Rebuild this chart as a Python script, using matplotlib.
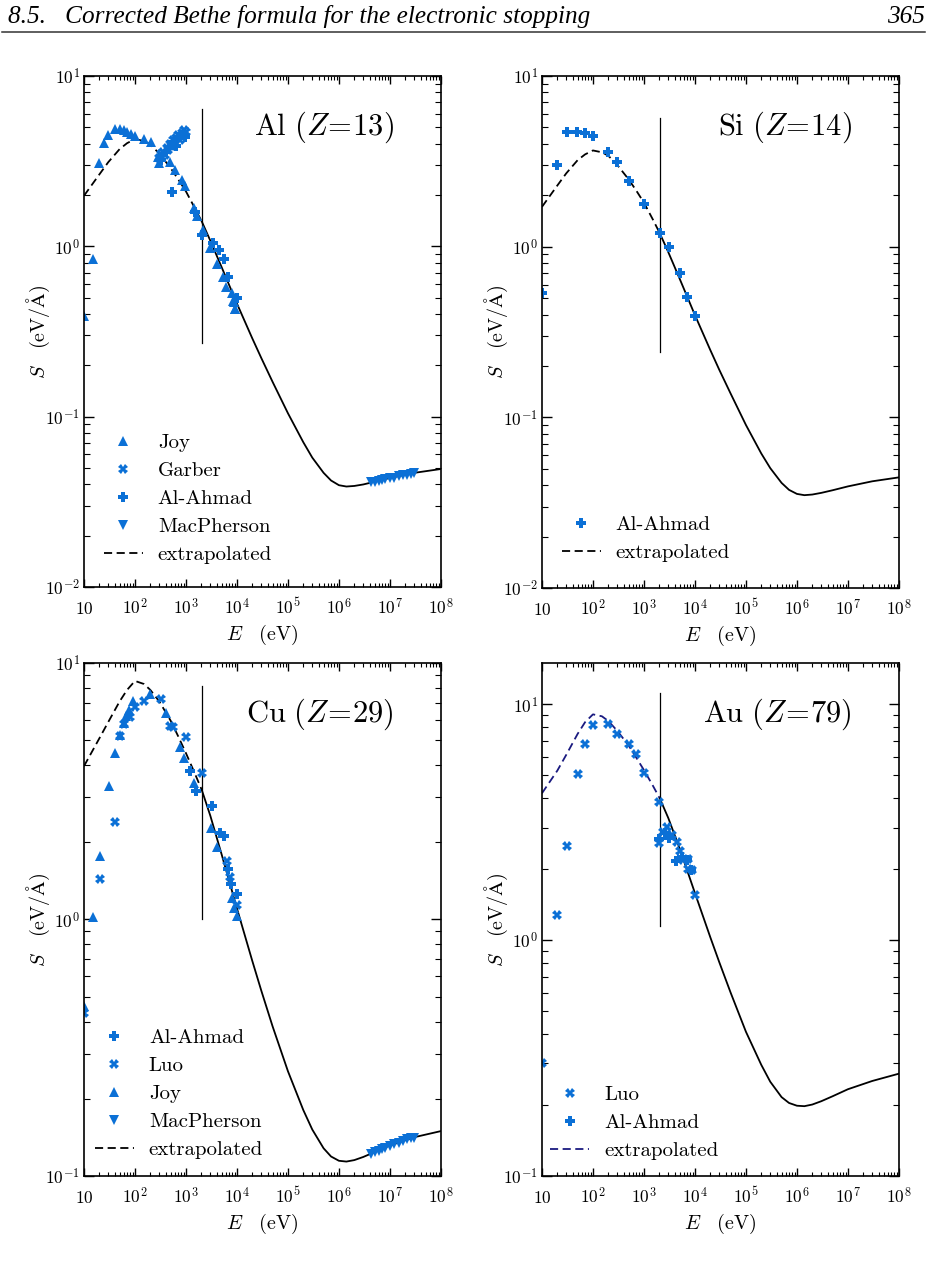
import numpy as np
import matplotlib
matplotlib.use('Agg')
import matplotlib.pyplot as plt
from matplotlib.lines import Line2D
from matplotlib.ticker import LogLocator, NullFormatter

plt.rcParams['font.family'] = 'cmr10'
plt.rcParams['mathtext.fontset'] = 'cm'
plt.rcParams['axes.formatter.use_mathtext'] = True

BLUE = '#0b70d6'
CUT_E = 2040.0  # boundary between extrapolated and Bethe regime (eV)

curve_E = [10, 20, 30, 50, 70, 100, 150, 200, 300, 500, 700, 1000, 1500, 2040,
           3000, 5000, 1e4, 2e4, 3e4, 5e4, 1e5, 2e5, 3e5, 5e5, 7e5, 1e6, 1.4e6,
           2e6, 3e6, 5e6, 1e7, 3e7, 1e8]

# --- Al (Z=13) ---
al_curve_S = [1.98, 2.64, 3.12, 3.72, 4.03, 4.26, 4.15, 3.96, 3.50, 2.88, 2.48, 2.10, 1.67, 1.40,
              1.08, 0.755, 0.461, 0.288, 0.221, 0.160, 0.1047, 0.0708, 0.0575, 0.0468, 0.0422,
              0.0396, 0.0389, 0.0392, 0.0400, 0.0415, 0.0437, 0.0468, 0.0493]
al_cut_span = [0.272, 6.4]

al_joy_E = [10, 15.2, 20, 25, 30, 40, 50, 60, 70, 85, 100, 150, 205, 286, 296, 485, 608,
            822, 950, 1435, 1620, 2130, 2950, 4000, 5260, 6070, 7900, 8500, 8700, 9100, 9200]
al_joy_S = [0.39, 0.843, 3.08, 4.03, 4.5, 4.89, 4.85, 4.8, 4.7, 4.55, 4.45, 4.25, 4.12, 3.36,
            3.08, 3.13, 2.81, 2.45, 2.26, 1.67, 1.5, 1.25, 0.975, 0.79, 0.66, 0.58, 0.53, 0.48,
            0.47, 0.43, 0.43]
al_garber_E = [290, 320, 350, 380, 420, 450, 480, 520, 560, 600, 650, 700, 760, 820, 900, 1000]
al_garber_S = [3.3, 3.5, 3.6, 3.45, 3.8, 3.7, 4.0, 3.9, 4.2, 4.0, 4.3, 4.5, 4.2, 4.6, 4.8, 4.7]
al_ahmad_E = [330, 400, 470, 550, 640, 720, 850, 950, 525, 1500, 2100, 3330, 4440, 5600, 6800, 9800]
al_ahmad_S = [3.2, 3.6, 3.8, 4.1, 3.9, 4.4, 4.5, 4.4, 2.09, 1.6, 1.17, 1.05, 0.95, 0.84, 0.66, 0.5]
al_mac_E = [4.2e6, 5e6, 6e6, 7e6, 8e6, 1e7, 1.2e7, 1.5e7, 1.8e7, 2.2e7, 2.6e7, 3e7]
al_mac_S = [0.0412, 0.0416, 0.0421, 0.0425, 0.0429, 0.0434, 0.0439, 0.0446, 0.0452, 0.0457,
            0.0461, 0.0465]

# --- Si (Z=14) ---
si_curve_S = [1.71, 2.28, 2.69, 3.21, 3.47, 3.66, 3.57, 3.41, 3.01, 2.48, 2.14, 1.81, 1.44, 1.20,
              0.929, 0.650, 0.397, 0.248, 0.190, 0.138, 0.0902, 0.0614, 0.0504, 0.0413, 0.0376,
              0.0356, 0.0350, 0.0353, 0.0361, 0.0374, 0.0394, 0.0422, 0.0445]
si_cut_span = [0.242, 5.65]

si_ahmad_E = [10, 20, 30.5, 49, 70, 101, 200, 300, 508, 1000, 2060, 3100, 5080, 7080, 1e4]
si_ahmad_S = [0.537, 3.0, 4.71, 4.71, 4.66, 4.45, 3.6, 3.14, 2.42, 1.78, 1.2, 1.0, 0.70, 0.51, 0.39]

# --- Cu (Z=29) ---
cu_curve_S = [3.96, 5.08, 5.89, 7.08, 7.85, 8.51, 8.28, 7.85, 7.08, 5.96, 5.19, 4.45, 3.70, 3.20,
              2.54, 1.795, 1.104, 0.689, 0.528, 0.383, 0.256, 0.1807, 0.1517, 0.1282, 0.1191,
              0.1146, 0.1138, 0.1153, 0.1186, 0.1239, 0.1315, 0.1416, 0.1496]
cu_cut_span = [1.0, 8.1]

cu_ahmad_E = [1200, 1570, 3190, 4640, 5630, 6760, 7620, 9800]
cu_ahmad_S = [3.79, 3.18, 2.78, 2.17, 2.12, 1.57, 1.38, 1.26]
cu_luo_E = [10, 20.6, 41, 51, 61, 80, 100, 150, 324, 485, 560, 985, 2040, 6300, 7300, 10000]
cu_luo_S = [0.43, 1.44, 2.39, 5.2, 5.8, 6.14, 6.72, 7.13, 7.21, 5.7, 5.61, 5.13, 3.71, 1.69, 1.47, 1.14]
cu_joy_E = [10, 14.8, 20.6, 31, 41, 51, 61, 68, 77, 90, 197, 405, 760, 927, 1435, 3050, 4000,
            7870, 8900, 10100]
cu_joy_S = [0.46, 1.02, 1.76, 3.31, 4.47, 5.24, 5.82, 6.2, 6.56, 7.13, 7.55, 6.37, 4.72, 4.25,
            3.41, 2.27, 1.91, 1.21, 1.11, 1.03]
cu_mac_E = [4.2e6, 5e6, 6e6, 7e6, 8e6, 1e7, 1.2e7, 1.5e7, 1.8e7, 2.2e7, 2.6e7, 3e7]
cu_mac_S = [0.122, 0.124, 0.125, 0.127, 0.128, 0.131, 0.133, 0.135, 0.137, 0.139, 0.140, 0.141]

# --- Au (Z=79) ---
au_curve_S = [4.2, 5.24, 6.12, 7.50, 8.41, 9.08, 8.91, 8.51, 7.73, 6.70, 5.97, 5.27, 4.52, 4.0,
              3.30, 2.455, 1.585, 1.03, 0.807, 0.600, 0.409, 0.296, 0.251, 0.216, 0.204, 0.1986,
              0.1977, 0.2009, 0.2075, 0.2178, 0.2333, 0.2529, 0.2716]
au_cut_span = [1.15, 11.2]

au_luo_E = [10, 20, 30.5, 50, 70, 100, 200, 300, 508, 700, 1000, 2000, 2000, 2390, 2780, 3490,
            4370, 5080, 5730, 7190, 7380, 8600, 1e4]
au_luo_S = [0.30, 1.28, 2.5, 5.08, 6.79, 8.19, 8.27, 7.48, 6.81, 6.15, 5.11, 3.85, 2.58, 2.89,
            3.03, 2.8, 2.62, 2.4, 2.19, 2.2, 2.0, 1.99, 1.56]
au_ahmad_E = [2000, 2580, 3100, 4230, 5470, 6870, 8200]
au_ahmad_S = [2.7, 2.84, 2.71, 2.16, 2.26, 2.19, 1.99]

x_tick_labels = ['$10$', '$10^2$', '$10^3$', '$10^4$', '$10^5$', '$10^6$', '$10^7$', '$10^8$']


def draw_panel(ax, curve_S, dash_color, cut_span, series, title, ylim, y_decades, anchor):
    E = np.array(curve_E)
    S = np.array(curve_S)
    lo = E <= CUT_E
    hi = E >= CUT_E
    dash, = ax.plot(E[lo], S[lo], ls=(0, (4.5, 2.5)), color=dash_color, lw=1.3,
                    label='extrapolated')
    ax.plot(E[hi], S[hi], color='black', lw=1.3)
    ax.plot([CUT_E, CUT_E], cut_span, color='black', lw=0.9)

    handles = []
    for label, marker, xs, ys in series:
        h, = ax.plot(xs, ys, ls='none', marker=marker, color=BLUE, ms=6.5, mew=0,
                     label=label)
        handles.append(h)
    handles.append(dash)

    ax.set_xscale('log')
    ax.set_yscale('log')
    ax.set_xlim(10, 1e8)
    ax.set_ylim(*ylim)

    ax.set_xticks([10.0 ** k for k in range(1, 9)])
    ax.set_xticklabels(x_tick_labels)
    ax.set_yticks([10.0 ** k for k in y_decades])
    ax.set_yticklabels(['$10^{%d}$' % k for k in y_decades])
    for axis in (ax.xaxis, ax.yaxis):
        axis.set_minor_locator(LogLocator(base=10, subs=np.arange(2, 10), numticks=100))
        axis.set_minor_formatter(NullFormatter())

    ax.tick_params(which='both', direction='in', top=True, right=True, labelsize=12.5)
    ax.tick_params(axis='x', which='major', length=6, width=1.0, pad=19.5)
    ax.tick_params(axis='x', which='minor', length=3, width=0.8)
    ax.tick_params(axis='y', which='major', length=7.5, width=1.0, pad=3)
    ax.tick_params(axis='y', which='minor', length=4.5, width=0.8)
    for lbl in ax.get_xticklabels():
        lbl.set_verticalalignment('baseline')
    for sp in ax.spines.values():
        sp.set_linewidth(1.2)

    ax.set_xlabel(r'$E\quad(\mathrm{eV})$', fontsize=14.5)
    ax.set_ylabel(r'$S\quad(\mathrm{eV}/\mathrm{\AA})$', fontsize=14.5)
    ax.xaxis.set_label_coords(0.5, -0.07)
    ax.yaxis.set_label_coords(-0.09, 0.5)

    ax.text(0.868, 0.9, title, transform=ax.transAxes, ha='right', va='center', fontsize=22)

    ax.legend(handles=handles, loc='lower left', bbox_to_anchor=anchor, frameon=False,
              fontsize=15, numpoints=1, handlelength=1.9, handletextpad=0.7,
              labelspacing=0.45, borderpad=0, borderaxespad=0)


fig = plt.figure(figsize=(9.32, 12.72), dpi=100)
ax_al = fig.add_axes([0.0901, 0.5385, 0.383, 0.4018])
ax_si = fig.add_axes([0.5815, 0.5377, 0.383, 0.4026])
ax_cu = fig.add_axes([0.0901, 0.0755, 0.383, 0.4033])
ax_au = fig.add_axes([0.5815, 0.0755, 0.383, 0.4033])

draw_panel(ax_al, al_curve_S, 'black', al_cut_span,
           [('Joy', '^', al_joy_E, al_joy_S),
            ('Garber', 'X', al_garber_E, al_garber_S),
            ('Al-Ahmad', 'P', al_ahmad_E, al_ahmad_S),
            ('MacPherson', 'v', al_mac_E, al_mac_S)],
           r'$\mathrm{Al}\ (Z\!=\!13)$', (1e-2, 1e1), [-2, -1, 0, 1], (0.055, 0.045))

draw_panel(ax_si, si_curve_S, 'black', si_cut_span,
           [('Al-Ahmad', 'P', si_ahmad_E, si_ahmad_S)],
           r'$\mathrm{Si}\ (Z\!=\!14)$', (1e-2, 1e1), [-2, -1, 0, 1], (0.055, 0.05))

draw_panel(ax_cu, cu_curve_S, 'black', cu_cut_span,
           [('Al-Ahmad', 'P', cu_ahmad_E, cu_ahmad_S),
            ('Luo', 'X', cu_luo_E, cu_luo_S),
            ('Joy', '^', cu_joy_E, cu_joy_S),
            ('MacPherson', 'v', cu_mac_E, cu_mac_S)],
           r'$\mathrm{Cu}\ (Z\!=\!29)$', (1e-1, 1e1), [-1, 0, 1], (0.03, 0.033))

draw_panel(ax_au, au_curve_S, '#1a1a80', au_cut_span,
           [('Luo', 'X', au_luo_E, au_luo_S),
            ('Al-Ahmad', 'P', au_ahmad_E, au_ahmad_S)],
           r'$\mathrm{Au}\ (Z\!=\!79)$', (1e-1, 15), [-1, 0, 1], (0.022, 0.031))

# running header of the book page
fig.text(8 / 932, 1 - 23 / 1272, '8.5.   Corrected Bethe formula for the electronic stopping',
         family='Liberation Serif', style='italic', fontsize=18.2, va='baseline', ha='left')
fig.text(925 / 932, 1 - 23 / 1272, '365', family='Liberation Serif', style='italic',
         fontsize=18.2, va='baseline', ha='right')
fig.add_artist(Line2D([2 / 932, 925 / 932], [1 - 32 / 1272, 1 - 32 / 1272],
                      transform=fig.transFigure, color='#333333', lw=1.1))

fig.savefig('out.png', dpi=100)
